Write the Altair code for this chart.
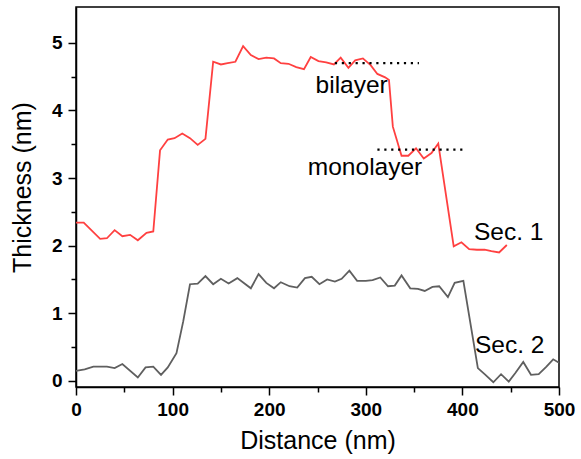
import altair as alt
import pandas as pd

# Sec. 1 (red) profile
sec1_x = [0, 8, 25, 32, 40, 48, 56, 64, 73, 80, 87, 95, 102, 110, 118, 126, 134,
          142, 150, 157, 165, 173, 181, 189, 197, 205, 212, 220, 228, 236, 243,
          251, 259, 267, 274, 282, 289, 297, 305, 312, 320, 324, 328, 337, 344,
          352, 360, 368, 375, 391, 399, 407, 415, 423, 430, 438, 446]
sec1_y = [2.34, 2.34, 2.10, 2.11, 2.23, 2.14, 2.16, 2.08, 2.19, 2.21, 3.41, 3.57,
          3.59, 3.66, 3.59, 3.49, 3.58, 4.72, 4.68, 4.70, 4.72, 4.95, 4.82, 4.76,
          4.78, 4.77, 4.70, 4.69, 4.64, 4.61, 4.79, 4.73, 4.71, 4.68, 4.78, 4.63,
          4.74, 4.77, 4.67, 4.54, 4.49, 4.45, 3.76, 3.33, 3.33, 3.44, 3.29, 3.37,
          3.51, 1.99, 2.05, 1.95, 1.94, 1.94, 1.92, 1.90, 2.01]

# Sec. 2 (grey) profile
sec2_x = [0, 9, 18, 32, 40, 48, 64, 72, 80, 88, 95, 104, 111, 118, 126, 134, 142,
          150, 158, 167, 181, 189, 197, 205, 212, 221, 229, 237, 244, 252, 260,
          268, 275, 283, 291, 300, 307, 315, 323, 330, 337, 346, 354, 361, 369,
          376, 385, 392, 401, 416, 423, 432, 440, 448, 455, 463, 471, 479, 487,
          494, 500]
sec2_y = [0.15, 0.17, 0.21, 0.21, 0.19, 0.25, 0.05, 0.20, 0.21, 0.09, 0.20, 0.41,
          0.88, 1.43, 1.44, 1.55, 1.43, 1.51, 1.44, 1.52, 1.37, 1.58, 1.45, 1.37,
          1.46, 1.40, 1.38, 1.52, 1.54, 1.43, 1.50, 1.47, 1.51, 1.63, 1.48, 1.48,
          1.49, 1.53, 1.40, 1.41, 1.56, 1.37, 1.36, 1.33, 1.39, 1.40, 1.24, 1.45,
          1.48, 0.19, 0.10, -0.02, 0.10, -0.01, 0.12, 0.28, 0.09, 0.10, 0.21,
          0.32, 0.27]

# Annotation texts
labels = ["bilayer", "monolayer", "Sec. 1", "Sec. 2"]
label_x = [248, 240, 412, 413]
label_y = [4.26, 3.05, 2.09, 0.41]

# Dotted level guides
level_names = ["bilayer", "monolayer"]
level_x1 = [268, 312]
level_x2 = [355, 401]
level_y = [4.70, 3.42]

x_ticks = list(range(0, 501, 50))
y_ticks = [i * 0.5 for i in range(11)]

df1 = pd.DataFrame({"x": sec1_x, "y": sec1_y})
df2 = pd.DataFrame({"x": sec2_x, "y": sec2_y})
dft = pd.DataFrame({"label": labels, "x": label_x, "y": label_y})
dfl = pd.DataFrame({"name": level_names, "x": level_x1, "x2": level_x2, "y": level_y})

xscale = alt.Scale(domain=[0, 500], nice=False, zero=False)
yscale = alt.Scale(domain=[-0.09, 5.53], nice=False, zero=False)

common_axis = dict(
    grid=False, labelFontWeight="bold", labelFontSize=19, labelColor="black",
    titleFontSize=25, titleFontWeight="normal", titleColor="black",
    domainColor="black", domainWidth=1.5, tickColor="black", tickWidth=1.5,
    labelFlush=False, labelOverlap=False,
)

x_axis = alt.Axis(
    values=x_ticks,
    labelExpr="datum.value % 100 === 0 ? format(datum.value, 'd') : ''",
    tickSize={"condition": {"test": "datum.value % 100 === 0", "value": 8}, "value": 5},
    title="Distance (nm)", labelPadding=5, titleY=61, titleBaseline="alphabetic",
    **common_axis,
)
y_axis = alt.Axis(
    values=y_ticks,
    labelExpr="datum.value % 1 === 0 ? format(datum.value, 'd') : ''",
    tickSize={"condition": {"test": "datum.value % 1 === 0", "value": 8}, "value": 5},
    title="Thickness (nm)", labelPadding=6, titleX=-46, titleY=180,
    titleBaseline="alphabetic", **common_axis,
)

X = alt.X("x:Q", scale=xscale, axis=x_axis)
Y = alt.Y("y:Q", scale=yscale, axis=y_axis)

line2 = alt.Chart(df2).mark_line(color="#5f5f5f", strokeWidth=1.8).encode(x=X, y=Y)
line1 = alt.Chart(df1).mark_line(color="#ff4040", strokeWidth=1.8).encode(x=X, y=Y)
levels = alt.Chart(dfl).mark_rule(color="black", strokeWidth=2.4, strokeDash=[2.2, 4.7]).encode(
    x=X, x2="x2:Q", y=Y,
)
texts = alt.Chart(dft).mark_text(
    align="left", baseline="alphabetic", fontSize=24.5, color="black", font="Liberation Sans"
).encode(x=X, y=Y, text="label:N")

chart = alt.layer(line2, line1, levels, texts).properties(
    width=483, height=380,
    padding={"left": 76, "top": 7, "right": 22, "bottom": 72},
    autosize=alt.AutoSizeParams(type="none"),
).configure(font="Liberation Sans").configure_view(stroke="black", strokeWidth=1.5)

chart.save("out.html", embed_options={"renderer": "svg", "actions": False})
